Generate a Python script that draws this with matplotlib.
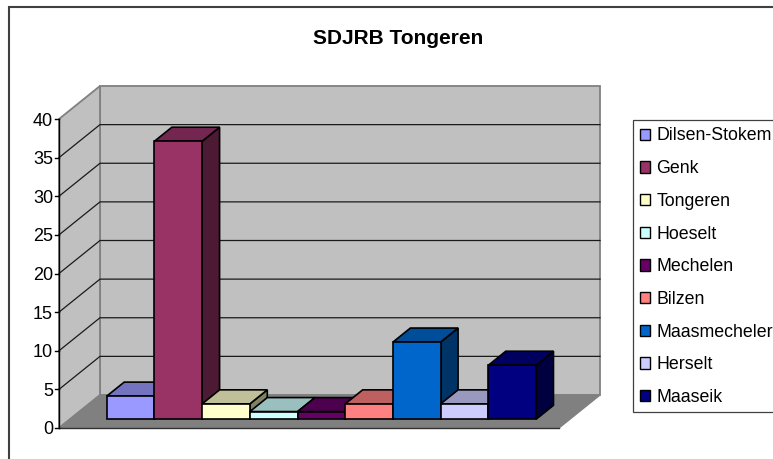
import matplotlib
matplotlib.use("Agg")
import matplotlib.pyplot as plt
from matplotlib.lines import Line2D
from matplotlib.patches import Polygon, Patch, Rectangle

categories = ["Dilsen-Stokem", "Genk", "Tongeren", "Hoeselt", "Mechelen",
              "Bilzen", "Maasmecheler", "Herselt", "Maaseik"]
values = [3, 36, 2, 1, 1, 2, 10, 2, 7]
front_colors = ["#9999FF", "#993366", "#FFFFCC", "#CCFFFF", "#660066",
                "#FF8080", "#0066CC", "#CCCCFF", "#000080"]
top_colors = ["#7373BF", "#732650", "#BFBF99", "#99BFBF", "#4D004D",
              "#BF6060", "#004D99", "#9999BF", "#000060"]
side_colors = ["#4D4D80", "#4D1A33", "#808066", "#668080", "#330033",
               "#804040", "#003366", "#666680", "#000040"]
y_ticks = [0, 5, 10, 15, 20, 25, 30, 35, 40]
title = "SDJRB Tongeren"

W, H = 773, 459
X0, Y0 = 59.0, 428.0          # front-left corner of the floor, px
PX_PER_CAT, PX_PER_VAL = 47.7, 7.725
DEPTH_X, DEPTH_Y = 41.0, 33.0  # oblique offset of the back wall, px
FLOOR_CATS = 500.0 / PX_PER_CAT
GAP = 0.775
D_FRONT, D_BACK = 0.264, 0.688

plt.rcParams["font.family"] = "Liberation Sans"
fig = plt.figure(figsize=(W / 100, H / 100), dpi=100, facecolor="white")
ax = fig.add_axes([0, 0, 1, 1])
ax.set_xlim(-X0 / PX_PER_CAT, (W - X0) / PX_PER_CAT)
ax.set_ylim(-(H - Y0) / PX_PER_VAL, Y0 / PX_PER_VAL)
ax.axis("off")


def proj(x, v, d):
    return (x + d * DEPTH_X / PX_PER_CAT, v + d * DEPTH_Y / PX_PER_VAL)


def poly(pts, fc, ec, lw, z):
    ax.add_patch(Polygon(pts, closed=True, facecolor=fc, edgecolor=ec,
                         linewidth=lw, joinstyle="miter", zorder=z))


# chart-area border: only its top and left sides are inside the picture
fig.add_artist(Line2D([9 / W, 9 / W, 1], [0, 1 - 6.5 / H, 1 - 6.5 / H],
                      color="#404040", lw=1.5, solid_joinstyle="miter"))

vmax = y_ticks[-1]
# walls and floor
poly([proj(0, 0, 1), proj(FLOOR_CATS, 0, 1), proj(FLOOR_CATS, vmax, 1), proj(0, vmax, 1)],
     "#C0C0C0", "#808080", 1.3, 1)
poly([proj(0, 0, 0), proj(0, 0, 1), proj(0, vmax, 1), proj(0, vmax, 0)],
     "#C0C0C0", "#808080", 1.3, 1)
poly([proj(0, 0, 0), proj(FLOOR_CATS, 0, 0), proj(FLOOR_CATS, 0, 1), proj(0, 0, 1)],
     "#808080", "#808080", 1.0, 1)

# gridlines
for t in y_ticks[1:-1]:
    a, b, c = proj(0, t, 0), proj(0, t, 1), proj(FLOOR_CATS, t, 1)
    ax.plot([a[0], b[0], c[0]], [a[1], b[1], c[1]], color="#1A1A1A", lw=0.9, zorder=2,
            solid_joinstyle="miter")
# axes
a = proj(0, 0, 0)
ax.plot([a[0], a[0]], [0, vmax], color="#000000", lw=1.0, zorder=2)
ax.plot([a[0], proj(FLOOR_CATS, 0, 0)[0]], [0, 0], color="#303030", lw=1.0, zorder=2)
for t in y_ticks:
    ax.plot([a[0] - 4 / PX_PER_CAT, a[0]], [t, t], color="#000000", lw=1.0, zorder=2)
    ax.text(a[0] - 6 / PX_PER_CAT, t, str(t), ha="right", va="center_baseline",
            fontsize=13, color="black")

# bars
for i, (v, fc, tc, sc) in enumerate(zip(values, front_colors, top_colors, side_colors)):
    l, r = GAP + i, GAP + i + 1
    z = 3 + i * 0.1
    poly([proj(r, 0, D_FRONT), proj(r, 0, D_BACK), proj(r, v, D_BACK), proj(r, v, D_FRONT)],
         sc, "black", 1.2, z)
    poly([proj(l, v, D_FRONT), proj(r, v, D_FRONT), proj(r, v, D_BACK), proj(l, v, D_BACK)],
         tc, "black", 1.2, z)
    poly([proj(l, 0, D_FRONT), proj(r, 0, D_FRONT), proj(r, v, D_FRONT), proj(l, v, D_FRONT)],
         fc, "black", 1.2, z)

fig.text(398.5 / W, 1 - 38.5 / H, title, ha="center", va="center", fontsize=15,
         fontweight="bold")

# legend frame runs past the right edge of the picture
fig.add_artist(Rectangle((633 / W, 1 - 411.7 / H), 200 / W, 292.2 / H,
                         transform=fig.transFigure, facecolor="white",
                         edgecolor="#404040", linewidth=0.9))
handles = [Patch(facecolor=c, edgecolor="black", linewidth=1.0) for c in front_colors]
leg = fig.legend(handles, categories, loc="upper left",
                 bbox_to_anchor=(639.5 / W, 1 - 127.5 / H), bbox_transform=fig.transFigure,
                 borderaxespad=0, frameon=False, prop={"size": 12.75},
                 handlelength=0.62, handleheight=0.62, handletextpad=0.33,
                 labelspacing=0.885, borderpad=0)
leg.set_zorder(10)

fig.savefig("out.png", dpi=100)
